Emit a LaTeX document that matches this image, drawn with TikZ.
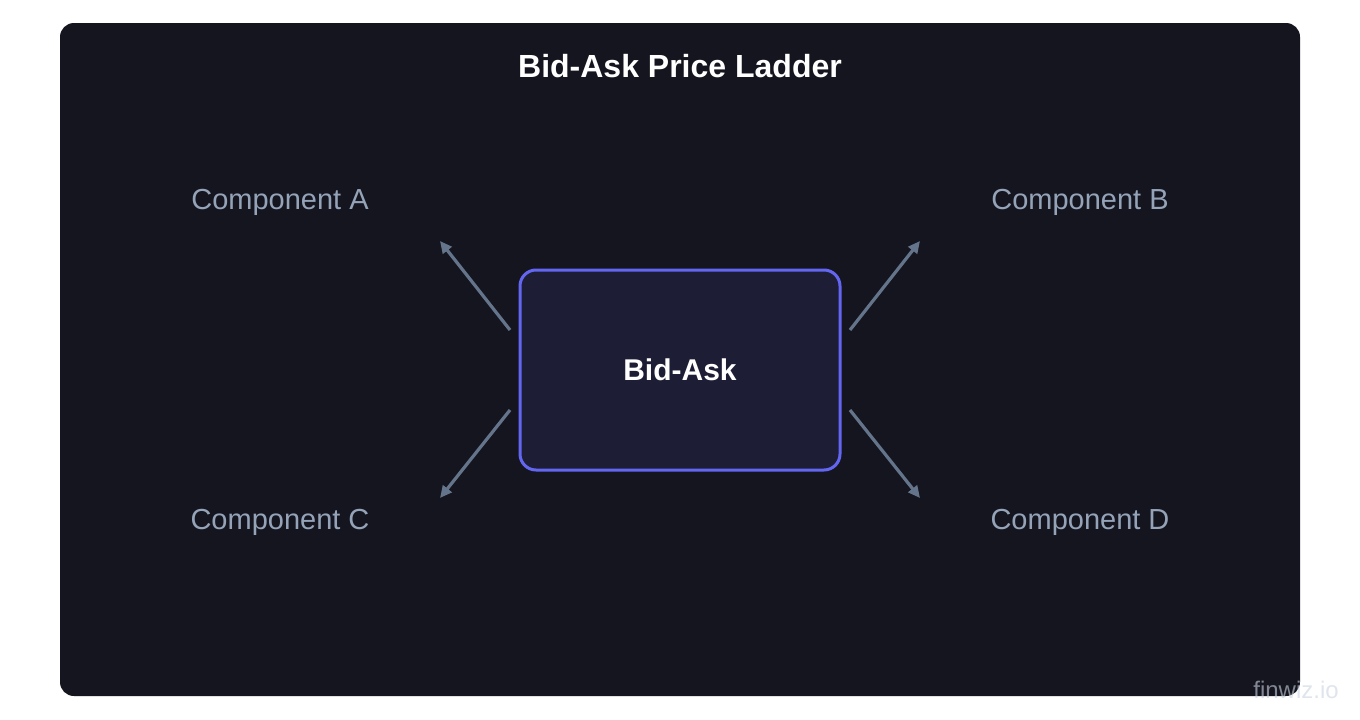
\documentclass[tikz,border=0pt]{standalone}
\usepackage{fontspec}
\setmainfont{Liberation Sans}
\usetikzlibrary{arrows.meta,positioning}
\definecolor{panelbg}{HTML}{15151F}
\definecolor{boxbg}{HTML}{1D1D35}
\definecolor{boxedge}{HTML}{6366F1}
\definecolor{partgrey}{HTML}{94A3B8}
\definecolor{arrowgrey}{HTML}{64748B}
\definecolor{markgrey}{HTML}{CBD5E1}
\tikzset{
		% the dark panel and the central box
		panel/.style={rectangle,fill=panelbg,rounded corners=14pt},
		main box/.style={rectangle,draw=boxedge,fill=boxbg,line width=3pt,rounded corners=16pt,
			minimum width=320pt,minimum height=200pt,text=white,font=\fontsize{30}{36}\selectfont\bfseries},
		% labels of the four parts round it
		part label/.style={text=partgrey,font=\fontsize{29}{34}\selectfont},
		part arrow/.style={draw=arrowgrey,line width=3.2pt,-{Triangle[length=12pt,width=11pt]}}
	}

\begin{document}
\begin{tikzpicture}[x=1pt,y=-1pt]
		\useasboundingbox[fill=white] (0,0) rectangle (1360,720);
		\fill[panelbg,rounded corners=14pt] (60,23) rectangle (1300,696);
		\node[text=white,font=\fontsize{32}{38}\selectfont\bfseries] (title) at (680,66) {Bid-Ask Price Ladder};
		\node[main box] (bidask) at (680,370) {Bid-Ask};
		\node[part label] (compA) at (280,202) {Component A};
		\node[part label] (compB) at (1080,202) {Component B};
		\node[part label] (compC) at (280,522) {Component C};
		\node[part label] (compD) at (1080,522) {Component D};
		% free ends of the arrows
		\coordinate (startA) at (510,330);
		\coordinate (endA) at (440,241);
		\coordinate (startB) at (850,330);
		\coordinate (endB) at (920,241);
		\coordinate (startC) at (510,410);
		\coordinate (endC) at (440,498);
		\coordinate (startD) at (850,410);
		\coordinate (endD) at (920,498);
		\foreach \p in {A,B,C,D}
			\draw[part arrow] (start\p) -- (end\p);
		\node[text=markgrey,opacity=0.6,font=\fontsize{24}{28}\selectfont] (mark) at (1296,690) {finwiz.io};
	\end{tikzpicture}
\end{document}
